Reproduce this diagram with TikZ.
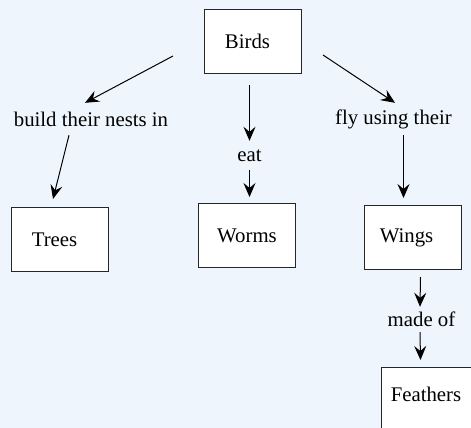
\documentclass[tikz,border=0pt]{standalone}
\usepackage{fontspec}
\setmainfont{Liberation Serif}
\newfontfamily\diagfont{Liberation Serif}
\usetikzlibrary{arrows.meta,calc}
\definecolor{bg}{RGB}{239,245,252}
\begin{document}
\begin{tikzpicture}[x=1pt,y=-1pt,
  box/.style={draw=black!85,fill=white,line width=1pt,minimum width=97pt,minimum height=64pt,inner sep=0pt,font=\diagfont\fontsize{20.8}{25}\selectfont},
  lbl/.style={inner sep=0pt,font=\diagfont\fontsize{20.8}{25}\selectfont,minimum height=#1},
  arr/.style={-{Stealth[length=14pt,width=12pt,inset=5pt]},line width=1pt}]
\useasboundingbox (0,0) rectangle (471,428);
\fill[bg] (0,0) rectangle (471,428);
\clip (0,0) rectangle (471,428);
\node[box] (birds) at (253,41.5) {\hspace*{-11pt}Birds};
\node[box] (trees) at (60,239.5) {\hspace*{-11pt}Trees};
\node[box] (worms) at (247,235.5) {Worms};
\node[box] (wings) at (413,237.5) {\hspace*{-13pt}Wings};
\node[box] (feathers) at (430,399.5) {\hspace*{-8pt}\raisebox{10pt}{Feathers}};
\node[lbl=32pt] (l1) at (91,119) {build their nests in};
\node[lbl=29pt] (eat) at (249.5,155.5) {eat};
\node[lbl=32pt] (fly) at (393.5,119) {fly using their};
\node[lbl=25pt] (madeof) at (421.5,319.5) {made of};
\draw[arr] ($(birds.west)+(-31,14.5)$) -- ($(l1.north)+(-6,0)$);
\draw[arr] ($(l1.south)+(-22,0)$) -- ($(trees.north)+(-7,-8)$);
\draw[arr] ($(birds.south)+(-3.5,11)$) -- (eat.north);
\draw[arr] (eat.south) -- ($(worms.north)+(2.5,-6)$);
\draw[arr] ($(birds.east)+(21,13.5)$) -- ($(fly.north)+(1.5,0)$);
\draw[arr] ($(fly.south)+(10,0)$) -- ($(wings.north)+(-9.5,-7)$);
\draw[arr] ($(wings.south)+(7.5,7)$) -- ($(madeof.north)+(-1.5,0)$);
\draw[arr] ($(madeof.south)+(-1.5,0)$) -- ($(feathers.north)+(-9.5,-7)$);
\end{tikzpicture}
\end{document}
